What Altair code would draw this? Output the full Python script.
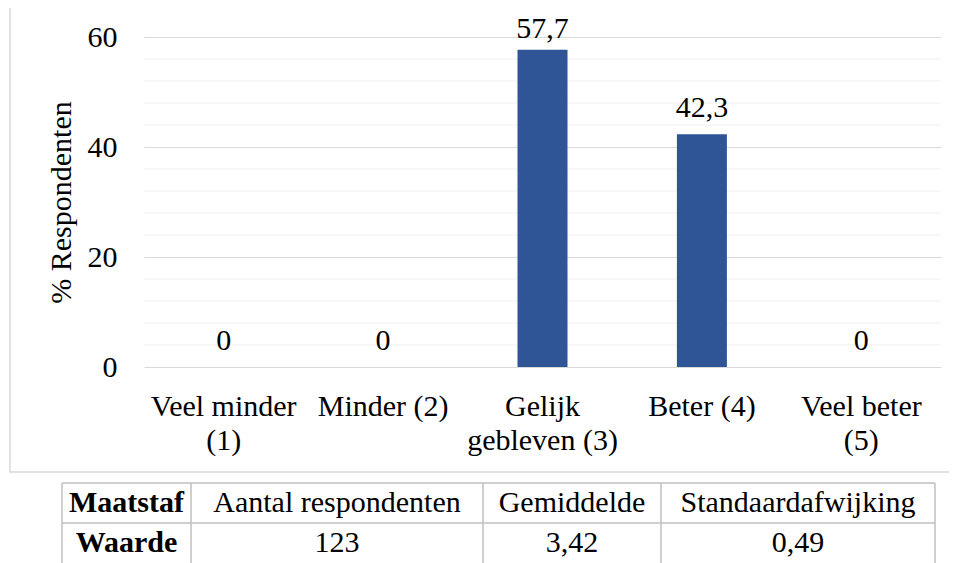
import altair as alt
import pandas as pd

# ---- data ----
categories = ["Veel minder|(1)", "Minder (2)", "Gelijk|gebleven (3)", "Beter (4)", "Veel beter|(5)"]
values = [0, 0, 57.7, 42.3, 0]
major_ticks = [0, 20, 40, 60]
minor_ticks = [4, 8, 12, 16, 24, 28, 32, 36, 44, 48, 52, 56]
y_title = "% Respondenten"

table_header = ["Maatstaf", "Aantal respondenten", "Gemiddelde", "Standaardafwijking"]
table_row = ["Waarde", "123", "3,42", "0,49"]

# ---- layout (pixels, relative to plot origin) ----
W, H = 797, 330
FONT = "Liberation Serif"
FS = 30
col_edges = [-82, 47, 339, 517, 791]
row_edges = [446, 486, 530]
BORDER = "#bfbfbf"

df = pd.DataFrame({"cat": categories, "val": values})
minor_df = pd.DataFrame({"val": minor_ticks})

base = alt.Chart(df)

bars = base.mark_bar(size=50, color="#2F5597").encode(
    x=alt.X("cat:N", sort=categories, title=None,
            axis=alt.Axis(labelExpr="split(datum.label, '|')", labelAngle=0,
                          labelFont=FONT, labelFontSize=FS, labelColor="#000000",
                          labelPadding=24, labelLineHeight=34, ticks=False, tickSize=0,
                          domain=False, grid=False, labelLimit=300)),
    y=alt.Y("val:Q", scale=alt.Scale(domain=[0, 60], nice=False), title=y_title,
            axis=alt.Axis(values=major_ticks, grid=True, gridColor="#d9d9d9",
                          gridWidth=1.2, domain=False, ticks=False, tickSize=0,
                          labelFont=FONT, labelFontSize=FS, labelColor="#000000",
                          labelPadding=27, titleFont=FONT, titleFontSize=FS,
                          titleFontWeight="normal", titleColor="#000000",
                          titleX=-83, titleY=H / 2, titleAngle=270,
                          titleBaseline="middle", titleAlign="center")),
)

# label sits ~17px above the bar, kept inside the chart area near the top
labels = base.transform_calculate(
    lbl="replace(format(datum.val, '.1~f'), '.', ',')",
    ylab="min(datum.val + 3.1, 59.9)",
).mark_text(baseline="alphabetic", font=FONT, fontSize=FS, color="#000000").encode(
    x=alt.X("cat:N", sort=categories, title=None),
    y=alt.Y("ylab:Q", title=y_title),
    text="lbl:N",
)

minor = alt.Chart(minor_df).mark_rule(color="#f0f0f0", strokeWidth=1.2).encode(
    y=alt.Y("val:Q", title=y_title),
    x=alt.value(0),
    x2=alt.value(W),
)

plot = alt.layer(minor, bars, labels)

frame = alt.Chart(pd.DataFrame({"a": [0]})).mark_rect(
    fillOpacity=0, stroke="#d9d9d9", strokeWidth=1.5
).encode(
    x=alt.value(-134), x2=alt.value(830), y=alt.value(-31), y2=alt.value(435)
)

# table geometry
hlines = pd.DataFrame({
    "x1": [col_edges[0]] * len(row_edges),
    "x2": [col_edges[-1]] * len(row_edges),
    "y1": row_edges,
    "y2": row_edges,
})
vlines = pd.DataFrame({
    "x1": col_edges,
    "x2": col_edges,
    "y1": [row_edges[0]] * len(col_edges),
    "y2": [row_edges[-1]] * len(col_edges),
})
lines_df = pd.concat([hlines, vlines], ignore_index=True)

table_lines = alt.Chart(lines_df).mark_rule(color=BORDER, strokeWidth=1.5).encode(
    x=alt.X("x1:Q", scale=None, axis=None),
    x2="x2:Q",
    y=alt.Y("y1:Q", scale=None, axis=None),
    y2="y2:Q",
)

row_centers = [466, 506]
cells = []
for r, row in enumerate([table_header, table_row]):
    for c, txt in enumerate(row):
        cells.append({
            "t": txt,
            "cx": (col_edges[c] + col_edges[c + 1]) / 2,
            "cy": row_centers[r],
            "bold": c == 0,
        })
cells_df = pd.DataFrame(cells)

table_text_norm = alt.Chart(cells_df).transform_filter("!datum.bold").mark_text(
    font=FONT, fontSize=FS, color="#000000", baseline="middle", align="center"
).encode(
    x=alt.X("cx:Q", scale=None, axis=None),
    y=alt.Y("cy:Q", scale=None, axis=None),
    text="t:N",
)
table_text_bold = alt.Chart(cells_df).transform_filter("datum.bold").mark_text(
    font=FONT, fontSize=FS, color="#000000", baseline="middle", align="center",
    fontWeight="bold"
).encode(
    x=alt.X("cx:Q", scale=None, axis=None),
    y=alt.Y("cy:Q", scale=None, axis=None),
    text="t:N",
)

chart = alt.layer(
    frame, plot, table_lines, table_text_norm, table_text_bold
).resolve_scale(
    x="independent", y="independent"
).properties(
    width=W, height=H,
    autosize=alt.AutoSizeParams(type="none"),
    padding={"left": 136, "top": 29, "right": 8, "bottom": 196},
    background="white",
).configure_view(stroke=None)

chart.save("out.html", embed_options={"renderer": "svg", "actions": False})
